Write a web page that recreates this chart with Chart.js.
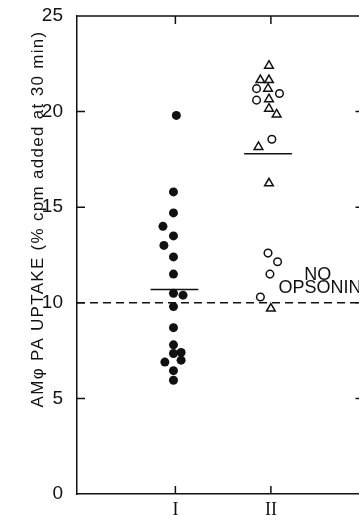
<!DOCTYPE html>
<html>
<head>
<meta charset="utf-8">
<script src="https://cdn.jsdelivr.net/npm/chart.js@4"></script>
<style>
  html, body { margin: 0; padding: 0; background: #fff; }
  #wrap { width: 359px; height: 515px; overflow: hidden; }
  #inner { width: 371px; height: 530px; }
</style>
</head>
<body>
<div id="wrap"><div id="inner"><canvas id="myChart" width="371" height="530"></canvas></div></div>
<script>
'use strict';
// group I : filled circles
let groupIValues = [19.8, 15.8, 14.7, 14.0, 13.5, 13.0, 12.4, 11.5, 10.5, 10.4, 9.8, 8.7, 7.8, 7.4, 7.35, 6.9, 7.0, 6.45, 5.95];
let groupIX = [1.01, 0.98, 0.98, 0.87, 0.98, 0.88, 0.98, 0.98, 0.98, 1.08, 0.98, 0.98, 0.98, 1.06, 0.98, 0.89, 1.06, 0.98, 0.98];
// group II : open circles
let groupIICircleValues = [21.2, 20.95, 20.6, 18.55, 12.6, 12.15, 11.5, 10.3];
let groupIICircleX = [1.85, 2.09, 1.85, 2.01, 1.97, 2.07, 1.99, 1.89];
// group II : open triangles
let groupIITriValues = [22.4, 21.65, 21.65, 21.2, 20.65, 20.15, 19.85, 18.15, 16.25, 9.7];
let groupIITriX = [1.98, 1.89, 1.98, 1.97, 1.98, 1.98, 2.06, 1.87, 1.98, 2.0];
// means
let meanValues = [10.7, 17.8];
let meanFrom = [0.74, 1.72];
let meanTo = [1.24, 2.22];
let noOpsonin = 10;
let groupLabels = ['I', 'II'];
let groupPos = [1, 2];
let yTicks = [0, 5, 10, 15, 20, 25];
let yTitle = 'AM\u03C6 PA UPTAKE (% cpm added at 30 min)';
let noteLines = ['NO', 'OPSONIN'];
let notePos = [[2.35, 11.2], [2.08, 10.5]];

let xMin = -0.03;
let xMax = 2.98;
let ink = '#111';

function toPoints(xs, ys) {
    let pts = [];
    for (let i = 0; i < ys.length; i++) {
        pts.push({ x: xs[i], y: ys[i] });
    }
    return pts;
}

let frame = {
    id: 'frame',
    afterDraw(chart) {
        let ctx = chart.ctx;
        let a = chart.chartArea;
        let xs = chart.scales.x;
        let ys = chart.scales.y;
        ctx.save();
        ctx.strokeStyle = ink;
        ctx.lineWidth = 1.5;
        ctx.beginPath();
        ctx.moveTo(a.left, a.top);
        ctx.lineTo(a.right, a.top);
        ctx.lineTo(a.right, a.bottom);
        ctx.stroke();
        // inward ticks
        ctx.beginPath();
        yTicks.forEach(function (v) {
            if (v === 0 || v === 25) return;
            let py = ys.getPixelForValue(v);
            ctx.moveTo(a.left, py); ctx.lineTo(a.left + 8, py);
            ctx.moveTo(a.right, py); ctx.lineTo(a.right - 9, py);
        });
        groupPos.forEach(function (v) {
            let px = xs.getPixelForValue(v);
            ctx.moveTo(px, a.top); ctx.lineTo(px, a.top + 8);
            ctx.moveTo(px, a.bottom); ctx.lineTo(px, a.bottom - 8);
        });
        ctx.stroke();
        // note
        ctx.fillStyle = ink;
        ctx.font = '18px "Liberation Sans", Arial, sans-serif';
        ctx.textBaseline = 'alphabetic';
        ctx.textAlign = 'left';
        noteLines.forEach(function (t, i) {
            ctx.fillText(t, xs.getPixelForValue(notePos[i][0]), ys.getPixelForValue(notePos[i][1]));
        });
        // y title
        ctx.translate(43, 219);
        ctx.rotate(-Math.PI / 2);
        ctx.textAlign = 'center';
        ctx.textBaseline = 'alphabetic';
        ctx.font = '17px "Liberation Sans", Arial, sans-serif';
        ctx.letterSpacing = '1.3px';
        ctx.fillText(yTitle, 0, 0);
        ctx.restore();
    }
};

let datasets = [{
    type: 'line',
    data: [{ x: xMin, y: noOpsonin }, { x: xMax, y: noOpsonin }],
    borderColor: ink,
    borderWidth: 1.5,
    borderDash: [8, 5],
    pointRadius: 0
}];
for (let i = 0; i < meanValues.length; i++) {
    datasets.push({
        type: 'line',
        data: [{ x: meanFrom[i], y: meanValues[i] }, { x: meanTo[i], y: meanValues[i] }],
        borderColor: ink,
        borderWidth: 1.5,
        pointRadius: 0
    });
}
datasets.push({
    data: toPoints(groupIX, groupIValues),
    pointStyle: 'circle',
    pointRadius: 4.5,
    backgroundColor: ink,
    borderColor: ink,
    borderWidth: 0
}, {
    data: toPoints(groupIICircleX, groupIICircleValues),
    pointStyle: 'circle',
    pointRadius: 3.8,
    backgroundColor: '#fff',
    borderColor: ink,
    borderWidth: 1.5
}, {
    data: toPoints(groupIITriX, groupIITriValues),
    pointStyle: 'triangle',
    pointRadius: 5,
    backgroundColor: '#fff',
    borderColor: ink,
    borderWidth: 1.5
});

let ctx = document.getElementById('myChart').getContext('2d');
let myChart = new Chart(ctx, {
    type: 'scatter',
    data: { datasets: datasets },
    options: {
        responsive: false,
        animation: false,
        layout: { padding: { top: 16, right: 4, left: 0, bottom: 0 } },
        plugins: { legend: { display: false }, tooltip: { enabled: false } },
        scales: {
            x: {
                type: 'linear',
                min: xMin,
                max: xMax,
                afterFit: function (scale) {
                    scale.height = 36;
                    scale.paddingLeft = 0;
                    scale.paddingRight = 0;
                },
                afterBuildTicks: function (scale) {
                    scale.ticks = groupPos.map(function (v) { return { value: v }; });
                },
                ticks: {
                    color: ink,
                    padding: 5,
                    maxRotation: 0,
                    font: { family: '"Liberation Serif", serif', size: 18 },
                    callback: function (v) {
                        let i = groupPos.indexOf(v);
                        return i >= 0 ? groupLabels[i] : '';
                    }
                },
                grid: { display: false, drawTicks: false },
                border: { display: true, color: ink, width: 1.5 }
            },
            y: {
                min: 0,
                max: 25,
                afterFit: function (scale) {
                    scale.width = 77;
                    scale.paddingTop = 0;
                    scale.paddingBottom = 0;
                },
                afterBuildTicks: function (scale) {
                    scale.ticks = yTicks.map(function (v) { return { value: v }; });
                },
                ticks: {
                    color: ink,
                    padding: 14,
                    font: { family: '"Liberation Sans", Arial, sans-serif', size: 19 }
                },
                grid: { display: false, drawTicks: false },
                border: { display: true, color: ink, width: 1.5 }
            }
        }
    },
    plugins: [frame]
});
</script>
</body>
</html>
